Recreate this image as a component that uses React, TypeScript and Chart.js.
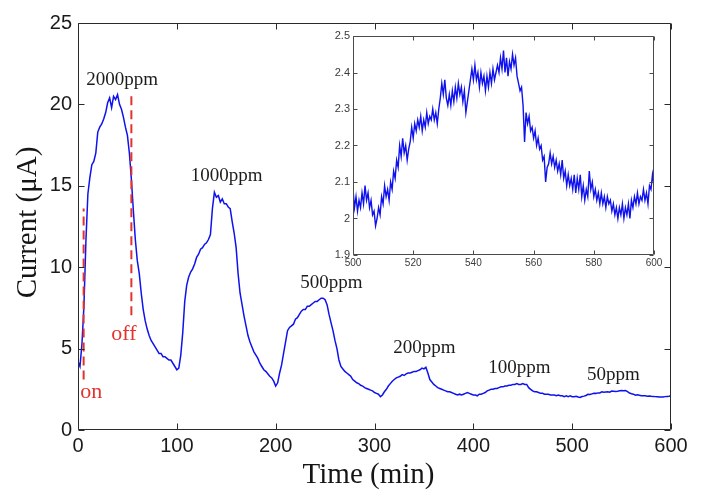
import React, { useEffect, useRef } from "react";
import { Chart, registerables } from "chart.js";

Chart.register(...registerables);

// ---------- data ----------
const mainStartTime = 0; // min
const mainStep = 2; // min between samples
const mainCurrent: number[] = [
  4.2, 3.9, 5.3, 7.6, 11.6, 14.5, 15.5, 16.3, 16.5, 17.0,
  18.3, 18.6, 18.8, 19.1, 19.5, 20.1, 20.4, 19.8, 20.5, 20.3,
  20.6, 20.0, 19.7, 19.2, 18.6, 18.1, 17.0, 15.4, 13.5, 11.7,
  10.4, 9.6, 8.4, 7.4, 6.7, 6.2, 5.8, 5.5, 5.3, 5.1,
  4.9, 4.7, 4.7, 4.5, 4.5, 4.4, 4.3, 4.3, 4.1, 3.9,
  3.7, 3.8, 4.6, 6.0, 7.9, 8.9, 9.4, 9.7, 9.9, 10.2,
  10.6, 10.8, 11.1, 11.2, 11.4, 11.5, 11.7, 12.0, 13.6, 14.6,
  14.3, 14.4, 14.0, 14.2, 13.9, 13.9, 13.7, 13.6, 12.8, 12.1,
  11.2, 9.6, 8.4, 7.7, 7.0, 6.4, 5.8, 5.4, 5.1, 4.8,
  4.6, 4.4, 4.1, 3.9, 3.7, 3.6, 3.45, 3.3, 3.2, 3.0,
  2.7, 2.9, 3.5, 4.0, 4.7, 5.4, 6.1, 6.3, 6.4, 6.5,
  6.8, 6.9, 7.1, 7.3, 7.4, 7.4, 7.6, 7.6, 7.7, 7.8,
  7.9, 7.9, 8.0, 8.1, 8.1, 8.0, 7.7, 7.1, 6.6, 6.1,
  5.5, 5.0, 4.3, 3.9, 3.75, 3.6, 3.5, 3.4, 3.3, 3.1,
  3.0, 2.9, 2.85, 2.75, 2.7, 2.6, 2.55, 2.5, 2.45, 2.4,
  2.3, 2.25, 2.2, 2.05, 2.15, 2.35, 2.5, 2.7, 2.85, 3.0,
  3.1, 3.2, 3.25, 3.3, 3.4, 3.35, 3.45, 3.5, 3.5, 3.55,
  3.6, 3.6, 3.65, 3.7, 3.8, 3.75, 3.85, 3.5, 3.1, 2.95,
  2.8, 2.7, 2.6, 2.55, 2.5, 2.45, 2.4, 2.35, 2.35, 2.3,
  2.25, 2.2, 2.15, 2.2, 2.15, 2.2, 2.25, 2.3, 2.25, 2.2,
  2.15, 2.15, 2.1, 2.2, 2.2, 2.25, 2.3, 2.4, 2.45, 2.5,
  2.5, 2.55, 2.55, 2.6, 2.65, 2.65, 2.7, 2.7, 2.75, 2.75,
  2.8, 2.8, 2.85, 2.8, 2.8, 2.85, 2.8, 2.8, 2.6, 2.5,
  2.4, 2.35, 2.35, 2.3, 2.25, 2.25, 2.2, 2.2, 2.2, 2.15,
  2.15, 2.15, 2.1, 2.15, 2.1, 2.1, 2.05, 2.1, 2.05, 2.1,
  2.05, 2.05, 2.07, 2.03, 2.0, 2.06, 2.08, 2.12, 2.19, 2.18,
  2.22, 2.26, 2.25, 2.28, 2.28, 2.35, 2.32, 2.34, 2.35, 2.32,
  2.39, 2.38, 2.37, 2.38, 2.41, 2.43, 2.41, 2.43, 2.35, 2.27,
  2.23, 2.2, 2.14, 2.16, 2.14, 2.11, 2.1, 2.1, 2.08, 2.09,
  2.07, 2.06, 2.05, 2.04, 2.02, 2.02, 2.03, 2.05, 2.06, 2.07,
  2.1,
];

const insetStartTime = 500;
const insetStep = 0.5;
const insetCurrent: number[] = [
  2.08, 2.03, 2.06, 2.02, 2.05, 2.03, 2.07, 2.04, 2.09, 2.05,
  2.07, 2.03, 2.05, 2.01, 2.02, 1.98, 2.00, 2.03, 2.01, 2.06,
  2.04, 2.09, 2.06, 2.08, 2.05, 2.10, 2.08, 2.13, 2.11, 2.16,
  2.14, 2.20, 2.17, 2.22, 2.18, 2.20, 2.16, 2.19, 2.21, 2.25,
  2.22, 2.26, 2.24, 2.27, 2.25, 2.28, 2.24, 2.27, 2.25, 2.29,
  2.26, 2.28, 2.27, 2.30, 2.27, 2.29, 2.26, 2.30, 2.33, 2.37,
  2.34, 2.38, 2.33, 2.31, 2.34, 2.31, 2.35, 2.32, 2.36, 2.33,
  2.37, 2.34, 2.36, 2.32, 2.35, 2.29, 2.32, 2.35, 2.38, 2.41,
  2.38, 2.42, 2.38, 2.40, 2.36, 2.40, 2.37, 2.39, 2.35, 2.39,
  2.36, 2.40, 2.37, 2.41, 2.38, 2.40, 2.42, 2.40, 2.44, 2.41,
  2.46, 2.40, 2.44, 2.39, 2.43, 2.41, 2.45, 2.42, 2.44, 2.39,
  2.37, 2.35, 2.36, 2.31, 2.21, 2.29, 2.26, 2.28, 2.24, 2.25,
  2.22, 2.24, 2.20, 2.22, 2.19, 2.20, 2.16, 2.17, 2.10, 2.14,
  2.15, 2.18, 2.15, 2.17, 2.14, 2.16, 2.13, 2.15, 2.12, 2.16,
  2.11, 2.13, 2.09, 2.12, 2.09, 2.11, 2.08, 2.12, 2.07, 2.11,
  2.08, 2.12, 2.06, 2.09, 2.05, 2.08, 2.06, 2.13, 2.08, 2.10,
  2.06, 2.08, 2.05, 2.07, 2.04, 2.07, 2.04, 2.06, 2.03, 2.06,
  2.04, 2.05, 2.02, 2.04, 2.01, 2.03, 2.00, 2.03, 2.01, 2.04,
  2.00, 2.03, 2.01, 2.04, 2.00, 2.05, 2.03, 2.06, 2.04, 2.07,
  2.04, 2.06, 2.05, 2.08, 2.05, 2.07, 2.04, 2.09, 2.08, 2.12,
  2.09,
];

const mainXMin = 0, mainXMax = 600, mainXStep = 100;
const mainYMin = 0, mainYMax = 25, mainYStep = 5;
const insetXMin = 500, insetXMax = 600, insetXStep = 20;
const insetYMin = 1.9, insetYMax = 2.5, insetYStep = 0.1;

const xTitle = "Time (min)";
const yTitle = "Current (\u03bcA)";

const concentrationLabels = ["2000ppm", "1000ppm", "500ppm", "200ppm", "100ppm", "50ppm"];
const concentrationLabelTimes = [8.4, 114, 224.8, 319, 415, 515];
const concentrationLabelCurrents = [21.2, 15.3, 8.7, 4.7, 3.48, 3.1];

const valveLabels = ["on", "off"];
const valveTimes = [5.7, 54];
const valveLineTop = [13.6, 20.8];
const valveLineBottom = [3.1, 7.05];
const valveLabelTimes = [2.3, 33.7];
const valveLabelCurrents = [1.96, 5.5];

// ---------- styling ----------
const BLUE = "#0f12ee";
const RED = "#e2342e";
const SERIF = '"Liberation Serif", "Times New Roman", serif';
const SANS = '"Liberation Sans", Arial, sans-serif';

const framePlugin = {
  id: "frame",
  afterDatasetsDraw(chart: any, _args: any, opts: any) {
    const { ctx, chartArea: a, scales } = chart;
    const L = opts.tick ?? 5;
    ctx.save();
    ctx.strokeStyle = opts.color ?? "#222";
    ctx.lineWidth = 1;
    const l = Math.round(a.left) + 0.5;
    const r = Math.round(a.right) - 0.5;
    const t = Math.round(a.top) + 0.5;
    const b = Math.round(a.bottom) - 0.5;
    ctx.beginPath();
    ctx.rect(l, t, r - l, b - t);
    for (const tk of scales.x.ticks) {
      const px = Math.round(scales.x.getPixelForValue(tk.value)) + 0.5;
      ctx.moveTo(px, b);
      ctx.lineTo(px, b - L);
      ctx.moveTo(px, t);
      ctx.lineTo(px, t + L);
    }
    for (const tk of scales.y.ticks) {
      const py = Math.round(scales.y.getPixelForValue(tk.value)) + 0.5;
      ctx.moveTo(l, py);
      ctx.lineTo(l + L, py);
      ctx.moveTo(r, py);
      ctx.lineTo(r - L, py);
    }
    ctx.stroke();
    ctx.restore();
  },
};

const textPlugin = {
  id: "mainText",
  afterDraw(chart: any) {
    const { ctx, chartArea: a, scales } = chart;
    const x = scales.x, y = scales.y;
    ctx.save();
    ctx.textBaseline = "alphabetic";
    ctx.textAlign = "left";
    ctx.font = `19px ${SERIF}`;
    ctx.fillStyle = "#1c1c1c";
    concentrationLabels.forEach((s, i) => {
      ctx.fillText(s, x.getPixelForValue(concentrationLabelTimes[i]), y.getPixelForValue(concentrationLabelCurrents[i]));
    });
    ctx.font = `22px ${SERIF}`;
    ctx.fillStyle = RED;
    valveLabels.forEach((s, i) => {
      ctx.fillText(s, x.getPixelForValue(valveLabelTimes[i]), y.getPixelForValue(valveLabelCurrents[i]));
    });
    ctx.fillStyle = "#151515";
    ctx.font = `29px ${SERIF}`;
    ctx.textAlign = "center";
    ctx.fillText(xTitle, (a.left + a.right) / 2 - 6, a.bottom + 53);
    ctx.translate(28, (a.top + a.bottom) / 2 - 4);
    ctx.rotate(-Math.PI / 2);
    ctx.textBaseline = "middle";
    ctx.fillText(yTitle, 0, 0);
    ctx.restore();
  },
};

const shortNumber = (v: number | string) => String(Number(Number(v).toFixed(2)));

export default function App() {
  const mainRef = useRef<HTMLCanvasElement>(null);
  const insetRef = useRef<HTMLCanvasElement>(null);

  useEffect(() => {
    const mainData = mainCurrent.map((v, i) => ({ x: mainStartTime + i * mainStep, y: v }));
    const insetData = insetCurrent.map((v, i) => ({ x: insetStartTime + i * insetStep, y: v }));

    const valveSets = valveTimes.map((t, i) => ({
      data: [
        { x: t, y: valveLineBottom[i] },
        { x: t, y: valveLineTop[i] },
      ],
      borderColor: RED,
      borderWidth: 2,
      borderDash: [9, 5],
      pointRadius: 0,
    }));

    const main = new Chart(mainRef.current!, {
      type: "line",
      data: {
        datasets: [
          ...valveSets,
          {
            data: mainData,
            borderColor: BLUE,
            borderWidth: 1.5,
            pointRadius: 0,
            tension: 0,
          },
        ],
      },
      options: {
        responsive: false,
        animation: false,
        events: [],
        layout: { padding: { left: 0, top: 23, right: 31, bottom: 0 } },
        plugins: {
          legend: { display: false },
          tooltip: { enabled: false },
          frame: { color: "#2a2a2a", tick: 6 },
        } as any,
        scales: {
          x: {
            type: "linear",
            min: mainXMin,
            max: mainXMax,
            grid: { display: false, drawTicks: false },
            border: { display: false },
            ticks: {
              stepSize: mainXStep,
              maxRotation: 0,
              autoSkip: false,
              padding: 4,
              color: "#1a1a1a",
              font: { family: SANS, size: 20 },
            },
            afterFit: (s: any) => { s.height = 72; },
          },
          y: {
            type: "linear",
            min: mainYMin,
            max: mainYMax,
            grid: { display: false, drawTicks: false },
            border: { display: false },
            ticks: {
              stepSize: mainYStep,
              padding: 6,
              color: "#1a1a1a",
              font: { family: SANS, size: 20 },
            },
            afterFit: (s: any) => { s.width = 78; },
          },
        },
      } as any,
      plugins: [framePlugin, textPlugin],
    });

    const inset = new Chart(insetRef.current!, {
      type: "line",
      data: {
        datasets: [
          {
            data: insetData,
            borderColor: BLUE,
            borderWidth: 1.4,
            pointRadius: 0,
            tension: 0,
          },
        ],
      },
      options: {
        responsive: false,
        animation: false,
        events: [],
        layout: { padding: { left: 0, top: 16, right: 16, bottom: 0 } },
        plugins: {
          legend: { display: false },
          tooltip: { enabled: false },
          frame: { color: "#4a4a4a", tick: 4 },
        } as any,
        scales: {
          x: {
            type: "linear",
            min: insetXMin,
            max: insetXMax,
            grid: { display: false, drawTicks: false },
            border: { display: false },
            ticks: {
              stepSize: insetXStep,
              maxRotation: 0,
              autoSkip: false,
              padding: 2,
              color: "#3a3a3a",
              font: { family: SANS, size: 10 },
              callback: (v: any) => shortNumber(v),
            },
            afterFit: (s: any) => { s.height = 25; },
          },
          y: {
            type: "linear",
            min: insetYMin,
            max: insetYMax,
            grid: { display: false, drawTicks: false },
            border: { display: false },
            ticks: {
              stepSize: insetYStep,
              padding: 3,
              color: "#3a3a3a",
              font: { family: SANS, size: 11 },
              callback: (v: any) => shortNumber(v),
            },
            afterFit: (s: any) => { s.width = 53; },
          },
        },
      } as any,
      plugins: [framePlugin],
    });

    return () => {
      main.destroy();
      inset.destroy();
    };
  }, []);

  return (
    <div style={{ position: "fixed", left: 0, top: 0, width: 702, height: 502, background: "#fff" }}>
      <canvas ref={mainRef} width={702} height={502} style={{ position: "absolute", left: 0, top: 0 }} />
      <canvas ref={insetRef} width={370} height={260} style={{ position: "absolute", left: 300, top: 20 }} />
    </div>
  );
}
